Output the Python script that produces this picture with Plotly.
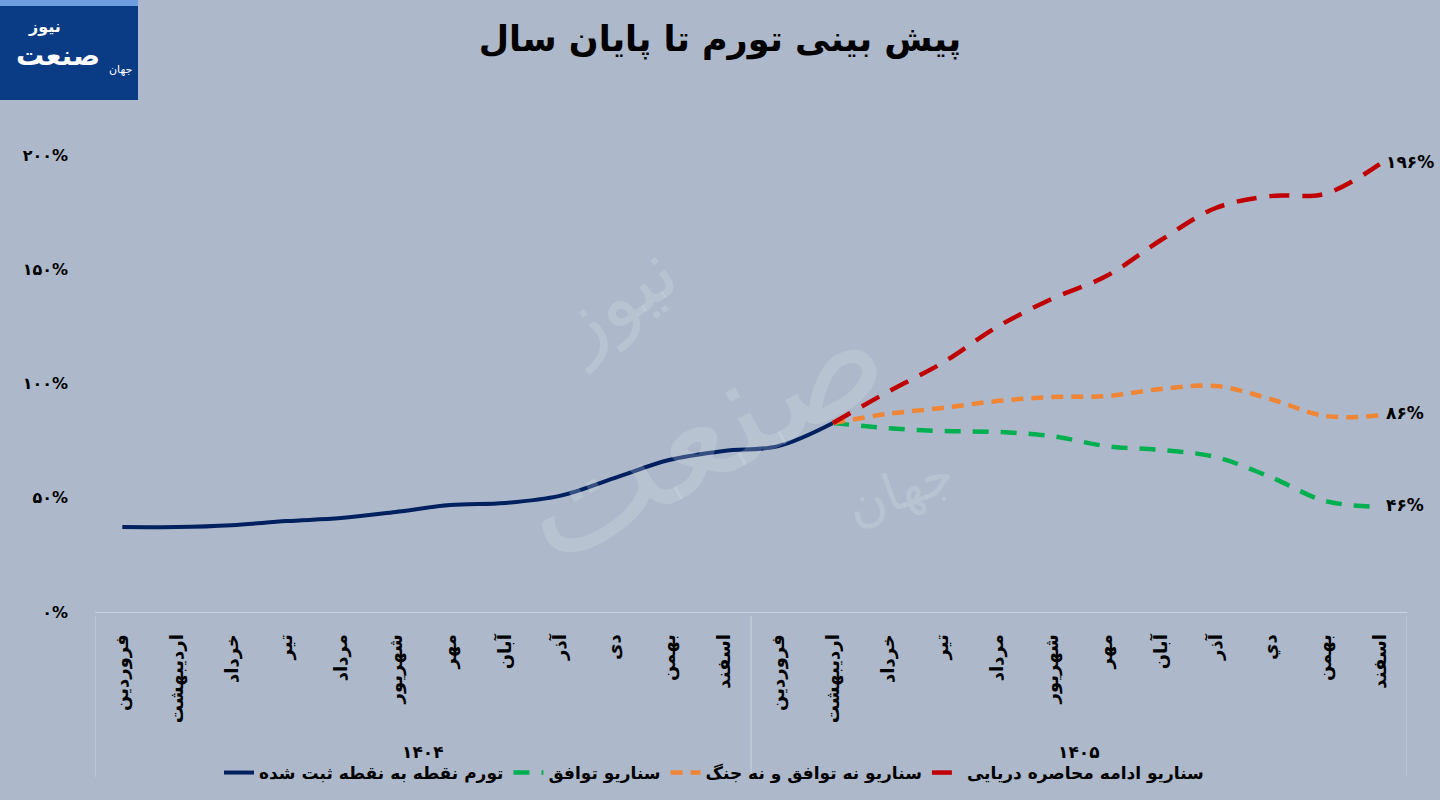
import plotly.graph_objects as go

# ---------------- data ----------------
months_1404 = ["فروردین", "اردیبهشت", "خرداد", "تیر", "مرداد", "شهریور",
               "مهر", "آبان", "آذر", "دی", "بهمن", "اسفند"]
months_1405 = ["فروردین", "اردیبهشت", "خرداد", "تیر", "مرداد", "شهریور",
               "مهر", "آبان", "آذر", "دي", "بهمن", "اسفند"]
years = ["۱۴۰۴", "۱۴۰۵"]

observed = [37.2, 37.2, 38.0, 39.8, 41.1, 43.8, 46.8, 47.7, 50.8, 58.6, 66.5, 70.5, 72.6, 82.7]
agreement = [82.7, 80.5, 79.2, 78.8, 77.0, 72.6, 70.9, 67.8, 59.1, 48.6, 46.0]
neither = [82.7, 86.7, 89.3, 92.3, 94.1, 94.5, 97.6, 98.9, 93.2, 85.8, 86.0]
blockade = [82.7, 96.3, 109.0, 124.7, 137.0, 147.0, 162.8, 176.8, 182.0, 183.0, 196.0]

series_names = ["تورم نقطه به نقطه ثبت شده", "سناریو توافق",
                "سناریو نه توافق و نه جنگ", "سناریو ادامه محاصره دریایی"]
end_labels = ["۴۶%", "۸۶%", "۱۹۶%"]

y_tickvals = [0, 50, 100, 150, 200]
y_ticktext = ["۰%", "۵۰%", "۱۰۰%", "۱۵۰%", "۲۰۰%"]

title_text = "پیش بینی تورم تا پایان سال"
logo_main, logo_top, logo_small = "صنعت", "نیوز", "جهان"

# ---------------- figure ----------------
months = months_1404 + months_1405
x_all = list(range(len(months)))
x_obs = x_all[:len(observed)]
x_scn = x_all[len(observed) - 1:]

FONT = "DejaVu Sans"
BG = "#ADB9CA"
W, H = 1440, 800
ML, MR, MT, MB = 95, 33, 155, 188
PW, PH = W - ML - MR, H - MT - MB


def px_x(px):
    return (px - ML) / PW


def px_y(py):
    return (H - MB - py) / PH


fig = go.Figure()
fig.add_trace(go.Scatter(x=x_obs, y=observed, mode="lines", name=series_names[0],
                         line=dict(color="#002060", width=4, shape="spline")))
fig.add_trace(go.Scatter(x=x_scn, y=agreement, mode="lines", name=series_names[1],
                         line=dict(color="#00B050", width=4.5, shape="spline", dash="16px,12px")))
fig.add_trace(go.Scatter(x=x_scn, y=neither, mode="lines", name=series_names[2],
                         line=dict(color="#F08535", width=4.5, shape="spline", dash="12px,8px")))
fig.add_trace(go.Scatter(x=x_scn, y=blockade, mode="lines", name=series_names[3],
                         line=dict(color="#C00000", width=4.5, shape="spline", dash="20px,13px")))

# end-of-series labels
for vals, lab in zip([agreement, neither, blockade], end_labels):
    fig.add_annotation(x=x_scn[-1], y=vals[-1], xref="x", yref="y", text=lab,
                       showarrow=False, xanchor="left", xshift=4, yshift=2,
                       font=dict(family=FONT, size=17, color="black", weight="bold"))

# year group labels
for xc, yr in zip([5.5, 17.5], years):
    fig.add_annotation(x=xc, y=px_y(752), xref="x", yref="paper", text=yr, showarrow=False,
                       xanchor="center", yanchor="middle",
                       font=dict(family=FONT, size=17, color="black", weight="bold"))

# category box dividers
for xv in [-0.5, 11.5, 23.5]:
    fig.add_shape(type="line", xref="x", yref="paper", x0=xv, x1=xv,
                  y0=px_y(616), y1=px_y(777),
                  line=dict(color="#C9D1DD", width=1))

# watermark
WM = "rgba(222,230,240,0.24)"
fig.add_annotation(x=px_x(700), y=px_y(430), xref="paper", yref="paper", text=logo_main,
                   showarrow=False, textangle=-28, xanchor="center", yanchor="middle",
                   font=dict(family=FONT, size=150, color=WM))
fig.add_annotation(x=px_x(615), y=px_y(300), xref="paper", yref="paper", text=logo_top,
                   showarrow=False, textangle=-35, xanchor="center", yanchor="middle",
                   font=dict(family=FONT, size=80, color=WM))
fig.add_annotation(x=px_x(900), y=px_y(490), xref="paper", yref="paper", text=logo_small,
                   showarrow=False, textangle=-20, xanchor="center", yanchor="middle",
                   font=dict(family=FONT, size=52, color=WM))

fig.update_layout(
    width=W, height=H,
    paper_bgcolor=BG, plot_bgcolor=BG,
    margin=dict(l=ML, r=MR, t=MT, b=MB, autoexpand=False),
    title=dict(text=title_text, x=0.5, xanchor="center", y=0.952, yanchor="middle",
               font=dict(family=FONT, size=35, color="black", weight="bold")),
    showlegend=True,
    legend=dict(orientation="h", x=px_x(714), xanchor="center", y=px_y(773), yanchor="middle",
                font=dict(family=FONT, size=17, color="black", weight="bold"),
                bgcolor="rgba(0,0,0,0)", itemwidth=30, traceorder="normal"),
    xaxis=dict(range=[-0.5, 23.5], tickmode="array", tickvals=x_all, ticktext=months,
               tickangle=-90, showgrid=False, zeroline=False, showline=True,
               linecolor="#C9D1DD", linewidth=1, ticks="", ticklabelstandoff=14,
               automargin=False,
               tickfont=dict(family=FONT, size=18, color="black", weight="bold"),
               fixedrange=True),
    yaxis=dict(range=[0, 200], tickmode="array", tickvals=y_tickvals, ticktext=y_ticktext,
               showgrid=False, zeroline=False, showline=False, ticks="",
               ticklabelstandoff=26, automargin=False,
               tickfont=dict(family=FONT, size=16, color="black", weight="bold"),
               fixedrange=True),
)

# logo box
fig.add_shape(type="rect", xref="paper", yref="paper",
              x0=px_x(0), x1=px_x(138), y0=px_y(100), y1=px_y(0),
              fillcolor="#0A3B85", line=dict(color="#0A3B85", width=0))
fig.add_shape(type="rect", xref="paper", yref="paper",
              x0=px_x(0), x1=px_x(138), y0=px_y(6), y1=px_y(0),
              fillcolor="#6E9EE0", line=dict(width=0))
fig.add_annotation(xref="paper", yref="paper", x=px_x(58), y=px_y(56),
                   text=logo_main, showarrow=False, xanchor="center", yanchor="middle",
                   font=dict(family=FONT, size=28, color="white", weight="bold"))
fig.add_annotation(xref="paper", yref="paper", x=px_x(44), y=px_y(26),
                   text=logo_top, showarrow=False, xanchor="center", yanchor="middle",
                   font=dict(family=FONT, size=16, color="white", weight="bold"))
fig.add_annotation(xref="paper", yref="paper", x=px_x(120), y=px_y(70),
                   text=logo_small, showarrow=False, xanchor="center", yanchor="middle",
                   font=dict(family=FONT, size=11, color="white"))

fig.write_html("out.html")
